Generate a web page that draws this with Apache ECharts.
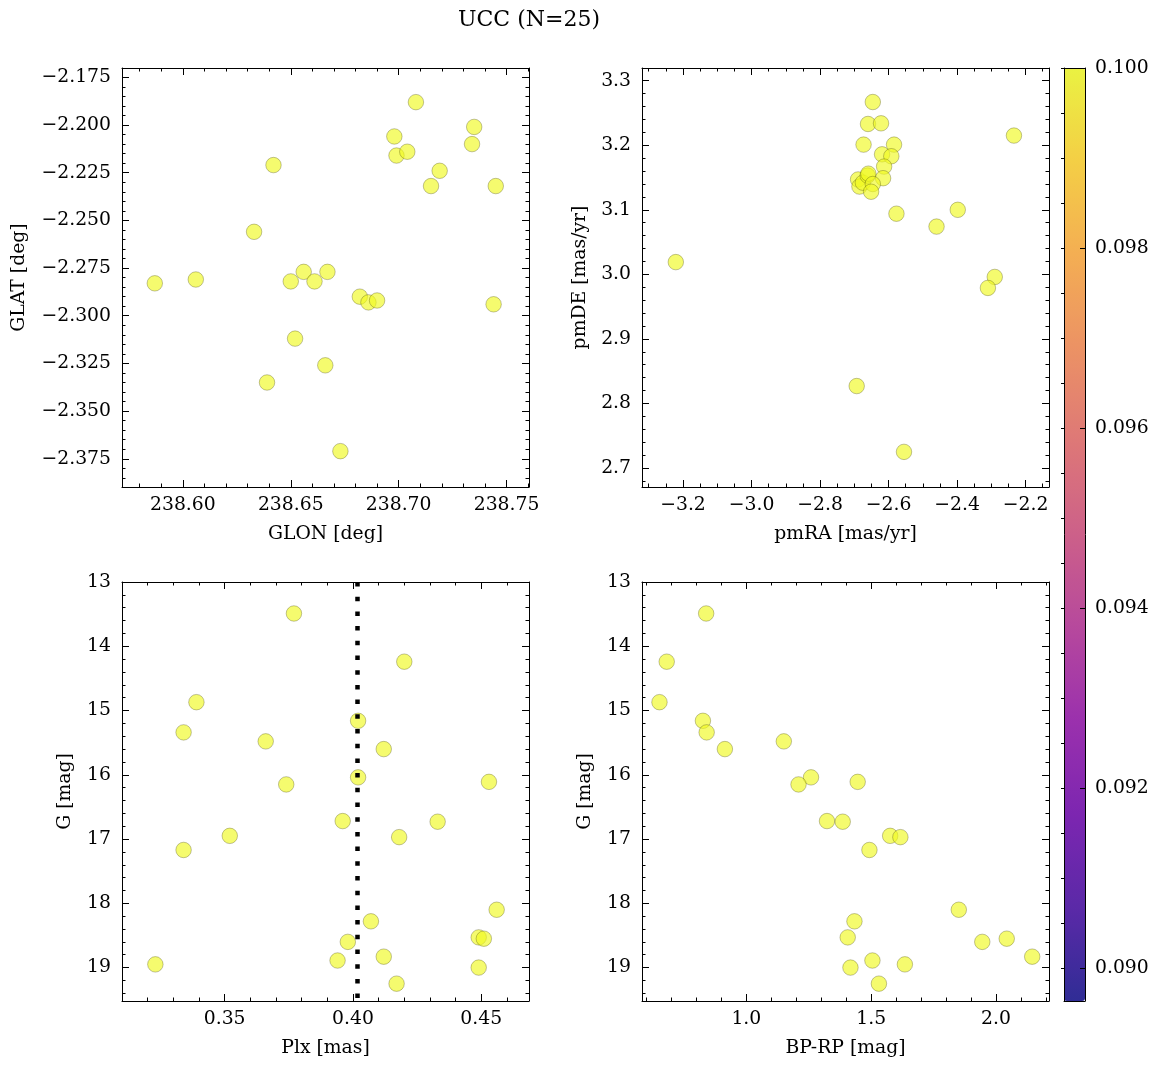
<!DOCTYPE html>
<html>
<head>
<meta charset="utf-8">
<script src="https://cdn.jsdelivr.net/npm/echarts@6/dist/echarts.min.js"></script>
<style>
html,body{margin:0;padding:0;background:#fff;}
#chart{width:1161px;height:1067px;}
</style>
</head>
<body>
<div id="chart"></div>
<script>
// ---------------- data ----------------
const TITLE = 'UCC (N=25)';

const GLON = [238.587, 238.606, 238.642, 238.633, 238.650, 238.656, 238.661, 238.667, 238.652, 238.639, 238.666, 238.673, 238.682, 238.686, 238.690, 238.698, 238.699, 238.704, 238.708, 238.715, 238.719, 238.734, 238.735, 238.745, 238.744];
const GLAT = [-2.283, -2.281, -2.221, -2.256, -2.282, -2.277, -2.282, -2.277, -2.312, -2.335, -2.326, -2.371, -2.290, -2.293, -2.292, -2.206, -2.216, -2.214, -2.188, -2.232, -2.224, -2.210, -2.201, -2.232, -2.294];

const PMRA = [-3.221, -2.693, -2.555, -2.646, -2.660, -2.622, -2.673, -2.584, -2.619, -2.592, -2.613, -2.616, -2.689, -2.685, -2.675, -2.661, -2.659, -2.646, -2.651, -2.577, -2.460, -2.398, -2.290, -2.310, -2.234];
const PMDE = [3.019, 2.827, 2.725, 3.267, 3.233, 3.234, 3.201, 3.201, 3.186, 3.183, 3.167, 3.149, 3.147, 3.136, 3.142, 3.153, 3.156, 3.140, 3.128, 3.094, 3.074, 3.100, 2.996, 2.979, 3.215];

const GMAG = [13.49, 14.24, 14.87, 15.16, 15.34, 15.48, 15.60, 16.04, 16.11, 16.15, 16.72, 16.73, 16.95, 16.97, 17.17, 18.10, 18.28, 18.53, 18.55, 18.60, 18.83, 18.89, 18.95, 19.00, 19.25];
const PLX  = [0.377, 0.420, 0.339, 0.402, 0.334, 0.366, 0.412, 0.402, 0.453, 0.374, 0.396, 0.433, 0.352, 0.418, 0.334, 0.456, 0.407, 0.449, 0.451, 0.398, 0.412, 0.394, 0.323, 0.449, 0.417];
const BPRP = [0.839, 0.681, 0.652, 0.826, 0.841, 1.150, 0.914, 1.259, 1.446, 1.209, 1.323, 1.386, 1.576, 1.617, 1.493, 1.851, 1.433, 1.406, 2.043, 1.945, 2.145, 1.505, 1.635, 1.417, 1.531];

const COLOR_VALUE = [0.1, 0.1, 0.1, 0.1, 0.1, 0.1, 0.1, 0.1, 0.1, 0.1, 0.1, 0.1, 0.1, 0.1, 0.1, 0.1, 0.1, 0.1, 0.1, 0.1, 0.1, 0.1, 0.1, 0.1, 0.1];
const PLX_LINE = 0.4017;

// tick labels
const GLON_TICKS = [238.60, 238.65, 238.70, 238.75];
const GLAT_TICKS = [-2.375, -2.350, -2.325, -2.300, -2.275, -2.250, -2.225, -2.200, -2.175];
const PMRA_TICKS = [-3.2, -3.0, -2.8, -2.6, -2.4, -2.2];
const PMDE_TICKS = [2.7, 2.8, 2.9, 3.0, 3.1, 3.2, 3.3];
const PLX_TICKS  = [0.35, 0.40, 0.45];
const BPRP_TICKS = [1.0, 1.5, 2.0];
const G_TICKS    = [13, 14, 15, 16, 17, 18, 19];
const CBAR_TICKS = [0.090, 0.092, 0.094, 0.096, 0.098, 0.100];

const PLASMA = ['#0d0887', '#41049d', '#6a00a8', '#8f0da4', '#b12a90', '#cc4778', '#e16462', '#f2844b', '#fca636', '#fcce25', '#f0f921'];

// ---------------- styling / layout ----------------
const FONT = 'DejaVu Serif';
const FS = 18.8;
const MAJ = 7, MIN = 3.5;
const W = 407, H = 419;
const ALPHA = 0.82;

function rgba(hex, a) {
  const r = parseInt(hex.slice(1, 3), 16), g = parseInt(hex.slice(3, 5), 16), b = parseInt(hex.slice(5, 7), 16);
  return 'rgba(' + r + ',' + g + ',' + b + ',' + a + ')';
}
function fmt(v, d) { return v.toFixed(d).replace('-', '\u2212'); }
function minorVals(min, max, step) {
  const out = [];
  const k0 = Math.ceil(min / step - 1e-9), k1 = Math.floor(max / step + 1e-9);
  for (let k = k0; k <= k1; k++) out.push(+(k * step).toFixed(10));
  return out;
}

const panels = [
  { x: GLON, y: GLAT, xr: [238.5718, 238.7604], yr: [-2.3898, -2.1701], xt: GLON_TICKS, yt: GLAT_TICKS,
    xm: 0.01, ym: 0.005, xd: 2, yd: 3, xn: 'GLON [deg]', yn: 'GLAT [deg]', ygap: 93, left: 122, top: 68, inv: false },
  { x: PMRA, y: PMDE, xr: [-3.3197, -2.1317], yr: [2.6706, 3.3197], xt: PMRA_TICKS, yt: PMDE_TICKS,
    xm: 0.05, ym: 0.02, xd: 1, yd: 1, xn: 'pmRA [mas/yr]', yn: 'pmDE [mas/yr]', ygap: 52, left: 642, top: 68, inv: false },
  { x: PLX, y: GMAG, xr: [0.3100, 0.4686], yr: [13, 19.52], xt: PLX_TICKS, yt: G_TICKS,
    xm: 0.01, ym: 0.2, xd: 2, yd: 0, xn: 'Plx [mas]', yn: 'G [mag]', ygap: 47, left: 122, top: 582, inv: true },
  { x: BPRP, y: GMAG, xr: [0.582, 2.2123], yr: [13, 19.52], xt: BPRP_TICKS, yt: G_TICKS,
    xm: 0.1, ym: 0.2, xd: 1, yd: 0, xn: 'BP-RP [mag]', yn: 'G [mag]', ygap: 47, left: 642, top: 582, inv: true }
];

const txt = { color: '#000', fontFamily: FONT, fontSize: FS };
const axLine = { show: true, onZero: false, lineStyle: { color: '#000', width: 1 } };
const noLine = { show: false };
const tickStyle = { color: '#000', width: 1 };

const grids = [], xAxes = [], yAxes = [], series = [];

function mk(gi, pos, range, inv, opts) {
  return Object.assign({
    type: 'value', gridIndex: gi, position: pos, min: range[0], max: range[1], inverse: !!inv,
    splitLine: { show: false }, axisPointer: { show: false }, silent: true,
    axisLine: noLine, axisTick: { show: false }, axisLabel: { show: false }
  }, opts);
}

panels.forEach((p, i) => {
  grids.push({ left: p.left, top: p.top, width: W, height: H, outerBoundsMode: 'none', containLabel: false });
  const xi = xAxes.length, yi = yAxes.length;
  const xMinor = minorVals(p.xr[0], p.xr[1], p.xm);
  const yMinor = minorVals(Math.min(p.yr[0], p.yr[1]), Math.max(p.yr[0], p.yr[1]), p.ym);
  // x axes
  xAxes.push(mk(i, 'bottom', p.xr, false, {
    axisLine: axLine,
    axisTick: { show: true, inside: true, length: MAJ, customValues: p.xt, lineStyle: tickStyle },
    axisLabel: { show: true, customValues: p.xt, margin: 9, formatter: v => fmt(v, p.xd), ...txt },
    name: p.xn, nameLocation: 'middle', nameGap: 38, nameMoveOverlap: false, nameTextStyle: txt
  }));
  xAxes.push(mk(i, 'top', p.xr, false, {
    axisLine: axLine,
    axisTick: { show: true, inside: true, length: MAJ, customValues: p.xt, lineStyle: tickStyle }
  }));
  xAxes.push(mk(i, 'bottom', p.xr, false, {
    axisTick: { show: true, inside: true, length: MIN, customValues: xMinor, lineStyle: tickStyle }
  }));
  xAxes.push(mk(i, 'top', p.xr, false, {
    axisTick: { show: true, inside: true, length: MIN, customValues: xMinor, lineStyle: tickStyle }
  }));
  // y axes
  yAxes.push(mk(i, 'left', p.yr, p.inv, {
    axisLine: axLine,
    axisTick: { show: true, inside: true, length: MAJ, customValues: p.yt, lineStyle: tickStyle },
    axisLabel: { show: true, customValues: p.yt, margin: 11, formatter: v => fmt(v, p.yd), ...txt },
    name: p.yn, nameLocation: 'middle', nameGap: p.ygap, nameMoveOverlap: false, nameTextStyle: txt
  }));
  yAxes.push(mk(i, 'right', p.yr, p.inv, {
    axisLine: axLine,
    axisTick: { show: true, inside: true, length: MAJ, customValues: p.yt, lineStyle: tickStyle }
  }));
  yAxes.push(mk(i, 'left', p.yr, p.inv, {
    axisTick: { show: true, inside: true, length: MIN, customValues: yMinor, lineStyle: tickStyle }
  }));
  yAxes.push(mk(i, 'right', p.yr, p.inv, {
    axisTick: { show: true, inside: true, length: MIN, customValues: yMinor, lineStyle: tickStyle }
  }));

  const s = {
    type: 'scatter', xAxisIndex: xi, yAxisIndex: yi,
    data: p.x.map((v, k) => [v, p.y[k], COLOR_VALUE[k]]),
    symbol: 'circle', symbolSize: 15.5,
    itemStyle: { borderColor: 'rgba(60,60,10,0.55)', borderWidth: 0.7 },
    emphasis: { disabled: true }, silent: true, animation: false
  };
  if (i === 2) {
    s.markLine = {
      silent: true, symbol: ['none', 'none'], label: { show: false }, animation: false, precision: 6,
      lineStyle: { color: '#000', width: 4.5, type: [4.5, 10.2], cap: 'butt', opacity: 1 },
      emphasis: { disabled: true },
      data: [{ xAxis: PLX_LINE }]
    };
  }
  series.push(s);
});

// colorbar frame & ticks
const CB = { left: 1064, top: 68, width: 21, height: 933, min: 0.08964, max: 0.1 };
const cbi = grids.length;
grids.push({ left: CB.left, top: CB.top, width: CB.width, height: CB.height, outerBoundsMode: 'none', containLabel: false });
const cbMinor = minorVals(CB.min, CB.max, 0.0005);
xAxes.push(mk(cbi, 'bottom', [0, 1], false, { axisLine: axLine, z: 10 }));
xAxes.push(mk(cbi, 'top', [0, 1], false, { axisLine: axLine, z: 10 }));
yAxes.push(mk(cbi, 'left', [CB.min, CB.max], false, { axisLine: axLine, z: 10 }));
yAxes.push(mk(cbi, 'right', [CB.min, CB.max], false, {
  axisLine: axLine, z: 10,
  axisTick: { show: true, inside: true, length: 5, customValues: CBAR_TICKS, lineStyle: tickStyle },
  axisLabel: { show: true, customValues: CBAR_TICKS, margin: 10, formatter: v => fmt(v, 3), ...txt }
}));
yAxes.push(mk(cbi, 'right', [CB.min, CB.max], false, {
  z: 10,
  axisTick: { show: true, inside: true, length: 3, customValues: cbMinor, lineStyle: tickStyle }
}));

const option = {
  animation: false,
  backgroundColor: '#fff',
  title: {
    text: TITLE, left: 458, top: 9, padding: 0,
    textStyle: { color: '#000', fontFamily: FONT, fontSize: 22, fontWeight: 'normal' }
  },
  grid: grids,
  xAxis: xAxes,
  yAxis: yAxes,
  visualMap: {
    type: 'continuous', min: CB.min, max: CB.max, dimension: 2, seriesIndex: [0, 1, 2, 3],
    left: CB.left, top: CB.top, itemWidth: CB.width, itemHeight: CB.height, padding: 0,
    calculable: false, hoverLink: false, text: null, showLabel: false,
    inRange: { color: PLASMA.map(c => rgba(c, ALPHA)) }
  },
  series: series
};

const chart = echarts.init(document.getElementById('chart'), null, { renderer: 'canvas' });
chart.setOption(option);
</script>
</body>
</html>
